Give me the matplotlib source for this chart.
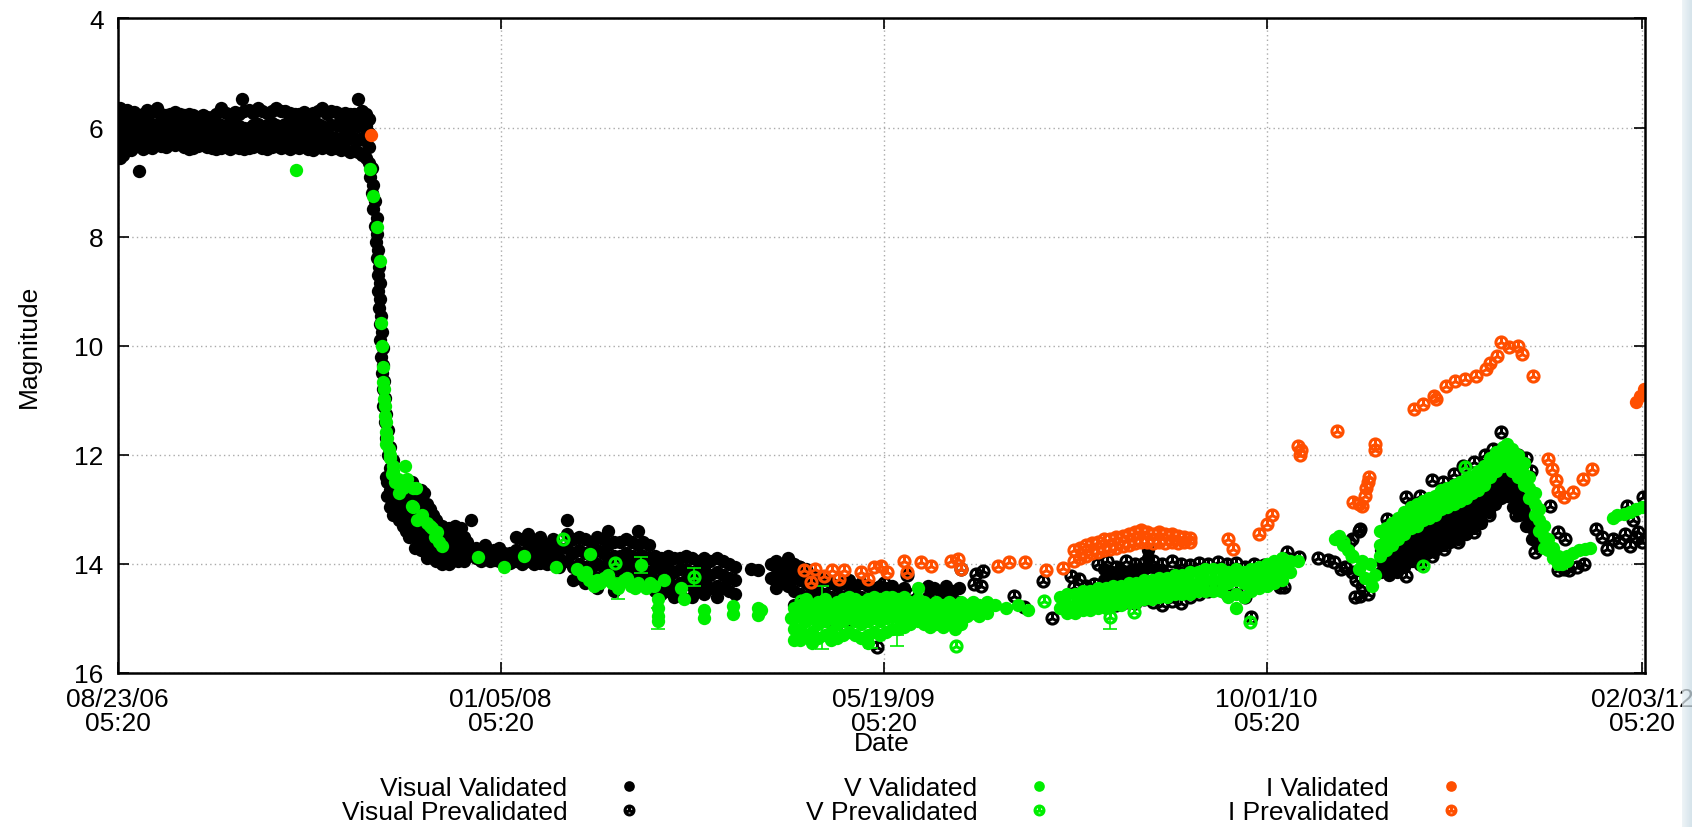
import numpy as np
import matplotlib
matplotlib.use('Agg')
import matplotlib.pyplot as plt
from matplotlib.path import Path
import matplotlib.dates as mdates

plt.rcParams['font.family'] = ['Liberation Sans', 'DejaVu Sans']

# time axis: days after the first tick, 08/23/06 05:20
start = np.datetime64('2006-08-23T05:20')
tick_dates = ['2006-08-23T05:20', '2008-01-05T05:20', '2009-05-19T05:20',
              '2010-10-01T05:20', '2012-02-03T05:20']
end_day = 1994
mag_ticks = [4, 6, 8, 10, 12, 14, 16]

# each entry: (day, magnitude, magnitude, ...)
vis_val_2006 = [
    (0, 5.72, 5.95, 6.2, 6.45), (3, 5.65, 6.05, 6.3, 6.55), (7, 5.75, 6.0, 6.25, 6.5),
    (12, 5.68, 5.9, 6.15, 6.38), (17, 5.78, 6.0, 6.22, 6.42), (22, 5.72, 5.95, 6.18, 6.35),
    (28, 5.8, 6.02, 6.25, 6.8), (33, 5.75, 5.98, 6.2, 6.4), (39, 5.68, 5.92, 6.15, 6.35),
    (45, 5.72, 5.95, 6.18, 6.37), (51, 5.65, 5.93, 6.16, 6.3), (57, 5.75, 5.98, 6.2, 6.33),
    (63, 5.78, 6.0, 6.2, 6.36), (69, 5.75, 5.95, 6.15, 6.3), (75, 5.72, 5.95, 6.17, 6.32),
    (81, 5.76, 5.98, 6.18, 6.3), (87, 5.78, 6.0, 6.2, 6.35), (93, 5.75, 5.97, 6.19, 6.4),
    (99, 5.77, 5.98, 6.2, 6.38), (105, 5.8, 6.0, 6.2, 6.33), (111, 5.78, 6.0, 6.22, 6.32),
    (117, 5.8, 6.02, 6.22, 6.35), (123, 5.8, 6.0, 6.2, 6.38), (129, 5.76, 5.98, 6.2, 6.4),
    (135, 5.65, 5.95, 6.18, 6.38), (141, 5.74, 5.97, 6.2, 6.36), (147, 5.78, 6.0, 6.22, 6.4),
    (153, 5.72, 5.95, 6.18, 6.35), (159, 5.75, 5.98, 6.2, 6.38), (163, 5.48),
    (165, 5.7, 6.0, 6.22, 6.4), (171, 5.68, 6.0, 6.2, 6.38), (177, 5.74, 5.96, 6.18, 6.35),
    (183, 5.65, 5.93, 6.16, 6.32), (189, 5.7, 6.0, 6.22, 6.38), (195, 5.73, 5.95, 6.18, 6.4),
    (201, 5.7, 5.92, 6.15, 6.35), (207, 5.65, 5.95, 6.17, 6.34), (213, 5.7, 5.98, 6.2, 6.38),
    (219, 5.7, 5.93, 6.16, 6.36), (225, 5.73, 5.96, 6.18, 6.4), (231, 5.75, 5.97, 6.18, 6.35),
    (237, 5.75, 5.98, 6.2, 6.38), (243, 5.72, 5.95, 6.17, 6.33), (249, 5.78, 6.0, 6.22, 6.4),
    (255, 5.74, 5.96, 6.18, 6.42), (261, 5.7, 5.93, 6.15, 6.35), (267, 5.65, 5.97, 6.2, 6.38),
    (273, 5.76, 6.0, 6.22, 6.35), (279, 5.7, 5.95, 6.18, 6.4), (285, 5.72, 5.96, 6.2, 6.38),
    (291, 5.75, 5.98, 6.2, 6.42), (297, 5.73, 5.95, 6.18, 6.4), (303, 5.76, 5.98, 6.2, 6.45),
    (309, 5.75, 5.97, 6.2, 6.42), (314, 5.48, 5.75, 5.98, 6.22, 6.45), (319, 5.7, 5.95, 6.2, 6.5),
    (324, 5.75, 5.98, 6.25, 6.55), (328, 5.85, 6.1, 6.35, 6.65),
]
vis_val_drop = [
    (332, 6.75), (330, 6.9), (334, 7.05), (332, 7.2), (336, 7.35), (334, 7.5), (338, 7.65),
    (336, 7.8), (339, 7.95), (337, 8.1), (340, 8.25), (338.5, 8.4), (341, 8.55), (339.5, 8.7),
    (342, 8.85), (340, 9.0), (343, 9.15), (341, 9.3), (344, 9.45), (342, 9.6), (345, 9.75),
    (343, 9.9), (346, 10.05), (344, 10.2), (347, 10.35), (345, 10.5), (348, 10.65),
    (346, 10.8), (349, 10.95), (347, 11.1), (351, 11.25), (349, 11.4), (353, 11.55),
    (351, 11.7), (356, 11.85), (353, 12.0), (359, 12.1), (356, 12.25), (350, 12.4),
]
vis_val_tail = [
    (352, 12.5, 12.75), (356, 12.65, 12.95), (360, 12.85, 13.1), (364, 12.55, 12.8, 13.05),
    (368, 12.7, 12.95, 13.2), (372, 12.8, 13.05, 13.3), (376, 12.6, 12.85, 13.1, 13.4),
    (380, 12.75, 13.0, 13.25, 13.5), (384, 12.5, 12.8, 13.05, 13.3),
    (388, 12.65, 12.9, 13.2, 13.45, 13.7), (392, 12.8, 13.05, 13.35, 13.6),
    (396, 12.65, 12.95, 13.25, 13.5, 13.75), (400, 12.7, 13.0, 13.3, 13.6),
    (404, 12.9, 13.15, 13.45, 13.7, 13.9), (408, 13.0, 13.3, 13.55, 13.8),
    (412, 13.1, 13.4, 13.65, 13.9), (416, 13.2, 13.45, 13.7, 13.95), (420, 13.35, 13.6, 13.85),
    (424, 13.3, 13.55, 13.8, 14.0), (428, 13.4, 13.65, 13.9), (432, 13.35, 13.6, 13.85, 14.0),
    (436, 13.5, 13.75, 13.95), (440, 13.3, 13.55, 13.8), (444, 13.45, 13.7, 13.95),
    (448, 13.35, 13.6, 13.85), (452, 13.5, 13.75, 13.95), (456, 13.6, 13.85), (461, 13.2),
    (468, 13.7, 13.9), (474, 13.75, 13.95), (480, 13.65, 13.85), (486, 13.8, 13.95),
    (492, 13.75, 13.92), (498, 13.7, 13.95), (504, 13.8, 14.0),
]
vis_val_2008 = [
    (512, 13.8, 13.98), (520, 13.5, 13.75, 13.95), (528, 13.55, 13.8, 14.0),
    (536, 13.45, 13.7, 13.95), (544, 13.6, 13.85, 14.0), (552, 13.5, 13.75, 13.98),
    (560, 13.65, 13.85, 14.0), (568, 13.55, 13.8, 14.0), (576, 13.7, 13.9, 14.05),
    (587, 13.2, 13.45, 13.7, 13.95), (594, 13.55, 13.8, 14.05, 14.3),
    (602, 13.5, 13.75, 14.0, 14.25), (610, 13.55, 13.8, 14.05, 14.35),
    (618, 13.6, 13.85, 14.1, 14.3), (626, 13.5, 13.75, 14.0, 14.25, 14.45),
    (634, 13.55, 13.8, 14.05, 14.3), (640, 13.4, 13.65, 13.9, 14.15),
    (648, 13.6, 13.85, 14.1, 14.35, 14.5), (656, 13.6, 13.85, 14.1, 14.3),
    (664, 13.55, 13.8, 14.0, 14.25), (672, 13.6, 13.85, 14.1, 14.35),
    (679, 13.4, 13.65, 13.9, 14.15), (686, 13.6, 13.85, 14.1, 14.3),
    (694, 13.65, 13.9, 14.15, 14.4), (702, 13.85, 14.05, 14.3, 14.5),
    (710, 13.9, 14.1, 14.35, 14.55), (718, 13.85, 14.05, 14.3, 14.5),
    (726, 13.9, 14.15, 14.4, 14.6), (734, 13.9, 14.1, 14.35, 14.55), (742, 13.85, 14.1, 14.3),
    (750, 13.9, 14.15, 14.4, 14.6), (758, 13.95, 14.2, 14.45), (766, 13.9, 14.1, 14.35, 14.55),
    (774, 13.95, 14.2, 14.45), (782, 13.9, 14.15, 14.4, 14.6), (790, 13.95, 14.2, 14.45),
    (798, 14.0, 14.25, 14.5), (806, 14.05, 14.3, 14.55), (827, 14.1), (836, 14.12),
    (853, 14.0, 14.25), (860, 13.95, 14.2, 14.45), (868, 14.05, 14.3), (875, 13.9, 14.15, 14.4),
]
vis_val_2009 = [
    (883, 14.0, 14.25, 14.5, 14.75), (891, 14.05, 14.3, 14.55, 14.8),
    (899, 14.1, 14.35, 14.6, 14.85), (907, 14.2, 14.45, 14.7, 14.95),
    (915, 14.25, 14.5, 14.75, 15.0), (923, 14.3, 14.55, 14.8, 15.05),
    (931, 14.35, 14.6, 14.85), (939, 14.4, 14.65, 14.9, 15.1), (947, 14.35, 14.6, 14.85),
    (955, 14.3, 14.55, 14.8, 15.05), (963, 14.4, 14.65, 14.9), (971, 14.35, 14.6, 14.85),
    (979, 14.4, 14.65, 14.9), (987, 14.45, 14.7, 14.95), (995, 14.4, 14.65, 14.9),
    (1003, 14.45, 14.7, 14.95), (1011, 14.4, 14.65, 14.9), (1019, 14.5, 14.75),
    (1027, 14.45, 14.7), (1058, 14.4, 14.6), (1066, 14.45, 14.7), (1074, 14.5, 14.75),
    (1082, 14.4, 14.65), (1090, 14.5, 14.75), (1098, 14.45, 14.7),
]
vis_val_2010 = [
    (1288, 14.1, 14.3), (1298, 14.15, 14.3), (1308, 14.1, 14.25), (1318, 14.15, 14.3),
    (1328, 14.1, 14.28), (1338, 14.12, 14.3), (1345, 13.75, 13.9, 14.05), (1355, 14.1, 14.3),
    (1365, 14.15, 14.35), (1375, 14.2, 14.4), (1385, 14.15, 14.35),
    (1650, 13.75, 13.95, 14.15), (1660, 13.65, 13.85, 14.05, 14.2),
    (1670, 13.55, 13.75, 13.95, 14.15), (1680, 13.45, 13.65, 13.85, 14.05),
    (1690, 13.35, 13.55, 13.75, 13.95), (1700, 13.3, 13.5, 13.7, 13.9),
    (1710, 13.2, 13.4, 13.6, 13.8), (1720, 13.15, 13.35, 13.55, 13.75),
    (1730, 13.05, 13.25, 13.45, 13.65), (1740, 13.0, 13.2, 13.4, 13.6),
    (1750, 12.95, 13.15, 13.35, 13.55), (1760, 12.85, 13.05, 13.25, 13.45),
    (1770, 12.75, 12.95, 13.15, 13.35), (1780, 12.65, 12.85, 13.05, 13.25),
    (1790, 12.5, 12.7, 12.9, 13.05), (1798, 12.3, 12.5, 12.7, 12.9),
    (1806, 12.2, 12.4, 12.6, 12.8), (1814, 12.35, 12.55, 12.75), (1822, 12.55, 12.75, 12.95),
    (1830, 12.7, 12.9, 13.1), (1838, 12.9, 13.1, 13.3), (1846, 13.15, 13.35, 13.55),
    (1854, 13.45, 13.65),
]
vis_pre = [
    (889, 14.05), (905, 14.55), (947, 14.6), (960, 14.5), (992, 15.53), (1000, 14.35),
    (1030, 14.2), (1040, 14.55), (1101, 14.1), (1118, 14.37), (1121, 14.19), (1127, 14.4),
    (1130, 14.13), (1170, 14.58), (1183, 14.79), (1208, 14.31), (1220, 15.0), (1245, 14.22),
    (1249, 14.42), (1255, 14.28), (1264, 14.4), (1275, 14.37),
    (1280, 14.0, 14.65), (1292, 13.95, 14.7), (1304, 14.05, 14.75), (1316, 13.95, 14.7),
    (1328, 14.0, 14.72), (1340, 13.98, 14.65), (1352, 13.95, 14.7), (1364, 14.0, 14.75),
    (1376, 13.95, 14.68), (1388, 14.0, 14.72), (1400, 14.02, 14.6), (1412, 13.98, 14.55),
    (1424, 14.0, 14.5), (1436, 13.97, 14.45), (1448, 14.0, 14.55), (1460, 13.98, 14.45),
    (1472, 14.05, 14.6), (1480, 14.97), (1484, 14.0, 14.4), (1496, 14.02, 14.35),
    (1508, 14.2), (1518, 14.42), (1523, 14.42), (1527, 13.79), (1542, 13.88),
    (1567, 13.9), (1580, 13.92), (1588, 13.97), (1597, 14.1), (1602, 14.05), (1607, 13.6),
    (1612, 14.15, 13.55), (1615, 14.6), (1617, 14.3), (1620, 13.4), (1622, 14.58, 13.36),
    (1625, 14.4), (1632, 14.55), (1657, 13.18), (1682, 12.78, 14.22), (1690, 12.9),
    (1700, 12.75, 14.0), (1716, 12.47, 13.85), (1730, 12.5), (1731, 13.73), (1745, 12.35),
    (1750, 13.6), (1756, 12.2), (1771, 12.14, 13.42), (1785, 12.0), (1790, 13.1),
    (1795, 11.9), (1801, 12.81), (1806, 11.59), (1815, 11.95), (1826, 13.1), (1828, 12.0),
    (1835, 12.6), (1838, 12.05), (1845, 12.3), (1851, 13.79), (1858, 13.5), (1870, 12.93),
    (1880, 13.42, 14.12), (1888, 14.1), (1890, 13.54), (1895, 14.12), (1905, 14.05),
    (1915, 14.0), (1930, 13.36), (1938, 13.5), (1945, 13.73), (1952, 13.55), (1960, 13.6),
    (1968, 13.45), (1970, 12.93), (1975, 13.67), (1978, 13.2), (1982, 13.5), (1985, 13.42),
    (1990, 13.6), (1992, 12.78),
]
v_val_2006 = [
    (233, 6.77), (329, 6.76), (334, 7.25), (338.6, 7.83), (342, 8.44), (344, 9.58),
    (345, 10.0), (346.5, 10.39), (347, 10.67), (347.5, 10.8), (348, 10.98), (348.5, 11.1),
    (349.5, 11.28), (350, 11.4), (351, 11.58), (352, 11.7), (350, 11.8), (354, 11.9),
    (356, 12.0), (355, 12.05), (360, 12.2), (358, 12.35), (360, 12.3), (362, 12.5),
    (365, 12.5), (366, 12.45), (368, 12.7), (372, 12.6), (375.6, 12.2), (378, 12.45),
    (384, 12.93), (386, 12.6), (386, 12.95), (389, 12.6), (391, 13.2), (398, 13.1),
    (404, 13.25), (408, 13.3), (410, 13.35), (414, 13.5), (417, 13.42), (420, 13.6),
    (423.6, 13.67),
]
v_val_2008 = [
    (470, 13.87), (504, 14.05), (530, 13.85), (572, 14.05), (600, 14.1), (608, 14.2),
    (612, 14.15), (615, 14.3), (617, 13.82), (622, 14.4), (626, 14.3), (630, 14.35),
    (635, 14.25), (640, 14.2), (645, 14.35), (653, 14.45), (661, 14.3), (665, 14.25),
    (670, 14.4), (675, 14.45), (680, 14.35), (683, 14.02), (690, 14.45), (695, 14.35),
    (700, 14.4), (705, 14.64, 14.8, 14.95, 15.05), (713, 14.3), (735, 14.45), (739, 14.64),
    (765, 14.85, 15.0), (803, 14.77, 14.92), (836, 14.8, 14.93), (840, 14.85), (879, 15.0),
]
v_val_2009 = [
    (883, 14.8, 15.0, 15.2, 15.4), (891, 14.75, 14.95, 15.2, 15.4),
    (899, 14.65, 14.85, 15.05, 15.3), (907, 14.8, 15.0, 15.25, 15.45),
    (915, 14.7, 14.9, 15.1, 15.35), (923, 14.65, 14.85, 15.05, 15.3),
    (931, 14.8, 15.0, 15.25, 15.4), (939, 14.7, 14.9, 15.1, 15.35),
    (947, 14.65, 14.85, 15.05, 15.3), (955, 14.6, 14.8, 15.0, 15.25),
    (963, 14.65, 14.85, 15.05, 15.3), (971, 14.7, 14.9, 15.1, 15.35),
    (979, 14.65, 14.85, 15.05, 15.3, 15.45), (987, 14.6, 14.8, 15.0, 15.25),
    (995, 14.65, 14.85, 15.05, 15.3), (1003, 14.6, 14.8, 15.0, 15.25),
    (1011, 14.6, 14.75, 14.95, 15.2), (1019, 14.65, 14.8, 15.0, 15.2),
    (1027, 14.6, 14.75, 14.95, 15.15), (1035, 14.7, 14.9, 15.1),
    (1045, 14.45, 14.65, 14.85, 15.05), (1053, 14.7, 14.9, 15.1), (1061, 14.75, 14.95, 15.15),
    (1069, 14.7, 14.9, 15.1), (1077, 14.75, 14.95, 15.15), (1085, 14.7, 14.9, 15.1),
    (1093, 14.75, 14.95, 15.2), (1101, 14.7, 14.9, 15.1), (1109, 14.75, 14.95),
    (1117, 14.7, 14.9), (1125, 14.75, 14.95), (1135, 14.7, 14.9), (1145, 14.75),
    (1160, 14.8), (1175, 14.75), (1188, 14.85),
]
v_val_2010 = [
    (1230, 14.6, 14.8), (1240, 14.55, 14.75, 14.9), (1250, 14.55, 14.75, 14.9),
    (1260, 14.5, 14.7, 14.85), (1270, 14.5, 14.7, 14.85), (1280, 14.45, 14.65, 14.8),
    (1290, 14.45, 14.6, 14.8), (1300, 14.4, 14.6, 14.75), (1310, 14.4, 14.55, 14.75),
    (1320, 14.35, 14.55, 14.7), (1330, 14.35, 14.5, 14.7), (1340, 14.3, 14.5, 14.65),
    (1350, 14.3, 14.45, 14.65), (1360, 14.25, 14.45, 14.6), (1370, 14.25, 14.4, 14.6),
    (1380, 14.2, 14.4, 14.55), (1390, 14.2, 14.4, 14.55), (1400, 14.15, 14.35, 14.55),
    (1410, 14.15, 14.35, 14.5), (1420, 14.1, 14.3, 14.5), (1430, 14.1, 14.3, 14.5),
    (1440, 14.1, 14.3, 14.5), (1450, 14.15, 14.35, 14.6), (1460, 14.1, 14.3, 14.55, 14.8),
    (1470, 14.15, 14.35, 14.6), (1480, 14.1, 14.3, 14.5), (1490, 14.05, 14.25, 14.45),
    (1500, 14.0, 14.2, 14.4), (1510, 13.95, 14.15, 14.35), (1520, 13.9, 14.1, 14.3),
    (1530, 13.95, 14.15), (1541, 13.94),
]
v_val_2011 = [
    (1589, 13.55), (1595, 13.48), (1600, 13.65), (1606, 13.75), (1611, 13.85), (1620, 14.1),
    (1625, 13.95), (1628, 14.25), (1635, 14.0), (1637, 14.4), (1642, 14.2),
    (1648, 13.4, 13.65, 13.85), (1656, 13.35, 13.55, 13.75), (1664, 13.25, 13.45, 13.65),
    (1672, 13.15, 13.35, 13.55), (1680, 13.05, 13.25, 13.45), (1688, 12.95, 13.15, 13.35),
    (1696, 12.9, 13.1, 13.3), (1704, 12.85, 13.0, 13.2), (1712, 12.8, 12.95, 13.15),
    (1720, 12.75, 12.9, 13.1), (1728, 12.65, 12.85, 13.0), (1736, 12.6, 12.8, 12.95),
    (1744, 12.55, 12.7, 12.9), (1752, 12.5, 12.65, 12.85), (1760, 12.45, 12.6, 12.8),
    (1768, 12.4, 12.55, 12.7), (1776, 12.3, 12.45, 12.65), (1784, 12.2, 12.35, 12.55),
    (1792, 12.05, 12.2, 12.4), (1800, 11.95, 12.1, 12.3), (1808, 11.85, 12.0, 12.2),
    (1814, 11.8, 11.95, 12.15), (1820, 11.9, 12.1, 12.3), (1828, 12.0, 12.2, 12.4),
    (1836, 12.15, 12.35, 12.55), (1843, 12.4, 12.6, 12.8), (1850, 12.7, 12.9, 13.1),
    (1856, 13.0, 13.2, 13.4), (1862, 13.3, 13.5, 13.7), (1868, 13.55, 13.75),
    (1874, 13.7, 13.9), (1880, 13.85, 14.0), (1886, 13.9, 14.0), (1892, 13.85, 13.95),
    (1900, 13.8), (1908, 13.75), (1916, 13.72), (1922, 13.7),
    (1952, 13.15), (1958, 13.1), (1966, 13.08), (1974, 13.05), (1982, 13.0), (1990, 12.95),
]
v_pre = [
    (581, 13.55), (650, 13.98), (752, 14.24), (892, 14.68), (955, 14.7), (1094, 15.5),
    (1210, 14.68), (1295, 14.97), (1327, 14.88), (1478, 15.07), (1600, 13.6), (1612, 13.85),
    (1704, 14.03), (1759, 12.23),
]
# (day, magnitude, error) for the V points drawn with error bars
v_err = [
    (653, 14.45, 0.2), (683, 14.02, 0.15), (705, 15.0, 0.2), (752, 14.24, 0.17),
    (920, 14.98, 0.58), (983, 15.45, 0.1), (1018, 15.4, 0.1), (1295, 14.97, 0.22),
]
i_val = [(331, 6.14), (1982, 11.04), (1987, 10.92), (1993, 10.8)]
i_pre = [
    (896, 14.12), (905, 14.33), (911, 14.09), (922, 14.22), (933, 14.12), (942, 14.28),
    (948, 14.12), (970, 14.15), (979, 14.28), (987, 14.06), (996, 14.03), (1005, 14.15),
    (1027, 13.94), (1031, 14.15), (1049, 13.97), (1062, 14.03), (1088, 13.94), (1097, 13.91),
    (1101, 14.09), (1149, 14.03), (1164, 13.97), (1184, 13.97), (1212, 14.12), (1234, 14.07),
    (1248, 13.75, 13.95), (1256, 13.7, 13.9), (1264, 13.65, 13.85), (1272, 13.62, 13.8),
    (1280, 13.6, 13.78), (1288, 13.55, 13.75), (1296, 13.55, 13.72), (1304, 13.5, 13.7),
    (1312, 13.48, 13.68), (1320, 13.45, 13.65), (1328, 13.42, 13.62), (1336, 13.38, 13.6),
    (1344, 13.42, 13.6), (1352, 13.45, 13.62), (1360, 13.42, 13.6), (1368, 13.45, 13.62),
    (1376, 13.45, 13.6), (1384, 13.48, 13.62), (1392, 13.5, 13.6), (1400, 13.52, 13.6),
    (1450, 13.54), (1456, 13.73), (1490, 13.45), (1500, 13.27), (1507, 13.1),
    (1541, 11.84), (1543, 12.0), (1545, 11.92), (1592, 11.56), (1613, 12.86), (1620, 12.9),
    (1624, 12.94), (1628, 12.75), (1630, 12.6), (1632, 12.5), (1634, 12.4), (1642, 11.8, 11.92),
    (1692, 11.16), (1704, 11.07), (1719, 10.92), (1721, 10.98), (1734, 10.73), (1746, 10.64),
    (1759, 10.61), (1774, 10.55), (1786, 10.43), (1791, 10.31), (1801, 10.18), (1806, 9.94),
    (1816, 10.03), (1828, 10.0), (1833, 10.15), (1848, 10.55), (1868, 12.08), (1873, 12.26),
    (1878, 12.47), (1880, 12.66), (1888, 12.78), (1900, 12.69), (1913, 12.44), (1925, 12.26),
]

black = '#000000'
green = '#00ee00'
orange = '#ff4f00'


def to_dates(days):
    return start + (np.asarray(days, dtype=float) * 86400).astype('timedelta64[s]')


def unpack(*groups):
    """(day, mag, mag, ...) rows -> dates, mags"""
    days, mags = [], []
    for group in groups:
        for day, *ms in group:
            days.extend([day] * len(ms))
            mags.extend(ms)
    return to_dates(days), np.array(mags)


# gnuplot-ish "prevalidated" marker: ring with three spokes
circle = Path.unit_circle()
spokes = []
for a in np.deg2rad([90, 210, 330]):
    spokes += [(0, 0), (np.cos(a), np.sin(a))]
ring = Path(np.concatenate([circle.vertices, spokes]),
            np.concatenate([circle.codes, [Path.MOVETO, Path.LINETO] * 3]))

fig = plt.figure(figsize=(16.92, 8.28), dpi=100)
ax = fig.add_axes([117.6 / 1692, 1 - 674 / 828, (1645 - 117.6) / 1692, (674 - 19.4) / 828])

ms_fill = 9.6
ms_ring = 8.0
mew_ring = 2.2

x, y = unpack(vis_val_2006, vis_val_drop, vis_val_tail, vis_val_2008, vis_val_2009, vis_val_2010)
h1, = ax.plot(x, y, ls='none', marker='o', ms=ms_fill, mew=0, color=black, label='Visual Validated')
x, y = unpack(vis_pre)
h2, = ax.plot(x, y, ls='none', marker=ring, ms=ms_ring, mew=mew_ring, mfc='none', mec=black,
              label='Visual Prevalidated')

x, y = unpack(v_val_2006, v_val_2008, v_val_2009, v_val_2010, v_val_2011)
h3, = ax.plot(x, y, ls='none', marker='o', ms=ms_fill, mew=0, color=green, label='V Validated')
x, y = unpack(v_pre)
h4, = ax.plot(x, y, ls='none', marker=ring, ms=ms_ring, mew=mew_ring, mfc='none', mec=green,
              label='V Prevalidated')
err = np.array(v_err)
ax.errorbar(to_dates(err[:, 0]), err[:, 1], yerr=err[:, 2], fmt='none', ecolor=green,
            elinewidth=1.2, capsize=5, capthick=1.2)

x, y = unpack(i_val)
h5, = ax.plot(x, y, ls='none', marker='o', ms=ms_fill, mew=0, color=orange, label='I Validated')
x, y = unpack(i_pre)
h6, = ax.plot(x, y, ls='none', marker=ring, ms=ms_ring, mew=mew_ring, mfc='none', mec=orange,
              label='I Prevalidated')

# axes
ax.set_xlim(start, to_dates([end_day])[0])
ax.set_ylim(16, 4)
ax.set_yticks(mag_ticks)
ax.set_xticks(np.array(tick_dates, dtype='datetime64[s]'))
ax.xaxis.set_major_formatter(mdates.DateFormatter('%m/%d/%y\n%H:%M'))
ax.tick_params(direction='in', length=8, width=1.2, top=True, right=True,
               labelsize=19, pad=10, colors='black')
for lbl in ax.get_xticklabels():
    lbl.set_linespacing(1.0)
ax.grid(True, color='#aaaaaa', linestyle=(0, (1, 2.3)), linewidth=1.0)
ax.set_axisbelow(True)
for sp in ax.spines.values():
    sp.set_linewidth(1.8)

ax.set_xlabel('Date', fontsize=19)
ax.xaxis.set_label_coords(0.5, -0.088)
ax.set_ylabel('Magnitude', fontsize=19)
ax.yaxis.set_label_coords(-0.05, 0.5)

# legend: three columns, label then marker
cols = [(h1, h2, 640), (h3, h4, 1050), (h5, h6, 1462)]
for ha, hb, xr in cols:
    fig.legend([ha, hb], [ha.get_label(), hb.get_label()], loc='center right',
               bbox_to_anchor=(xr / 1692, 1 - 801 / 828), frameon=False, markerfirst=False,
               fontsize=19, borderpad=0, borderaxespad=0, handlelength=0.8,
               handletextpad=1.96, labelspacing=0.02, markerscale=0.8)

# pale strip at the right edge of the screenshot
strip = fig.add_axes([1682 / 1692, 0, 10 / 1692, 1])
strip.imshow(np.linspace(0, 1, 10).reshape(1, -1), aspect='auto', alpha=0.75,
             cmap=matplotlib.colors.LinearSegmentedColormap.from_list('s', ['#e8f0f4', '#c9dbe5']))
strip.set_axis_off()

fig.savefig('out.png', dpi=100)
